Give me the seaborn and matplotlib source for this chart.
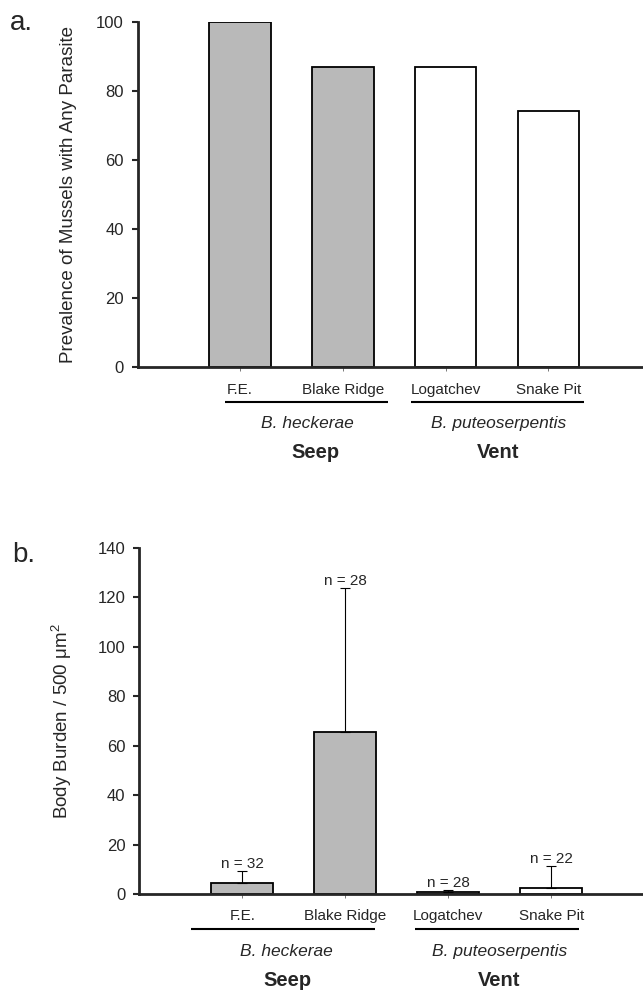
import numpy as np
import pandas as pd
import seaborn as sns
import matplotlib
matplotlib.use("Agg")
import matplotlib.pyplot as plt
from matplotlib.transforms import blended_transform_factory

# ---------------- data ----------------
sites = ["F.E.", "Blake Ridge", "Logatchev", "Snake Pit"]
habitat = ["Seep", "Seep", "Vent", "Vent"]
prevalence = [100, 87, 87, 74]
burden_mean = [4.4, 65.5, 1.0, 2.7]
burden_err = [5.0, 58.1, 0.6, 8.8]
n_labels = ["n = 32", "n = 28", "n = 28", "n = 22"]
species = ["B. heckerae", "B. puteoserpentis"]
groups = ["Seep", "Vent"]
prev_ticks = [0, 20, 40, 60, 80, 100]
burden_ticks = [0, 20, 40, 60, 80, 100, 120, 140]

habitat_colors = {"Seep": "#b9b9b9", "Vent": "#ffffff"}

sns.set_style("ticks")
plt.rcParams["font.family"] = ["Liberation Sans", "DejaVu Sans"]
plt.rcParams["mathtext.fontset"] = "custom"
plt.rcParams["mathtext.rm"] = "Liberation Sans"
plt.rcParams["mathtext.it"] = "Liberation Sans:italic"
plt.rcParams["mathtext.default"] = "regular"

W, H = 643, 992
fig = plt.figure(figsize=(W / 100, H / 100), dpi=100)

def fx(px):
    return px / W

def fy(py):
    return 1 - py / H

axA = fig.add_axes([fx(138), fy(367), 1 - fx(138), (367 - 21.7) / H])
axB = fig.add_axes([fx(139.3), fy(894.3), 1 - fx(139.3), (894.3 - 547.7) / H])

dfA = pd.DataFrame({"site": sites, "habitat": habitat, "value": prevalence})
dfB = pd.DataFrame({"site": sites, "habitat": habitat, "value": burden_mean})

for ax, df in ((axA, dfA), (axB, dfB)):
    sns.barplot(data=df, x="site", y="value", hue="habitat", palette=habitat_colors,
                dodge=False, width=0.6, edgecolor="black", linewidth=1.3,
                legend=False, ax=ax, errorbar=None)

# error bars (upper only) on panel b
axB.errorbar(np.arange(len(sites)), burden_mean,
             yerr=[np.zeros(len(sites)), burden_err], fmt="none",
             ecolor="black", elinewidth=0.8, capsize=3.7, capthick=0.8, zorder=3)
for i, (m, e, lab) in enumerate(zip(burden_mean, burden_err, n_labels)):
    axB.annotate(lab, (i, m + e), xytext=(0, 0), textcoords="offset points",
                 ha="center", va="bottom", fontsize=11)

# axes styling
axA.set_ylim(0, 100)
axA.set_xlim(-0.99, 3.92)
axB.set_ylim(0, 140)
axB.set_xlim(-1.0, 3.89)
axA.set_yticks(prev_ticks)
axB.set_yticks(burden_ticks)

for ax in (axA, axB):
    ax.spines["top"].set_visible(False)
    ax.spines["right"].set_visible(False)
    ax.spines["left"].set_linewidth(2.0)
    ax.spines["bottom"].set_linewidth(2.0)
    ax.tick_params(axis="y", length=4.3, width=1.5, pad=5.8, labelsize=12, direction="out")
    ax.set_xlabel("")
    ax.set_xticks(range(len(sites)))
    ax.set_xticklabels(sites)

axA.tick_params(axis="x", length=3, width=0.7, color="#777777", pad=8.3, labelsize=11)
axB.tick_params(axis="x", length=3, width=0.7, color="#777777", pad=7.6, labelsize=11)

axA.set_ylabel("Prevalence of Mussels with Any Parasite", fontsize=13.5)
axA.yaxis.set_label_coords(-0.121, 0.5)
axB.set_ylabel(r"Body Burden / 500 $\mu m^2$", fontsize=13.5)
axB.yaxis.set_label_coords(-0.13, 0.5)

# group annotations below the axes
def group_annot(ax, line_spans, line_py, sp_pos, sp_py, gr_pos, gr_py):
    tr = blended_transform_factory(ax.transData, fig.transFigure)
    for (x0, x1) in line_spans:
        ax.plot([x0, x1], [fy(line_py), fy(line_py)], transform=tr, color="black",
                lw=1.5, clip_on=False, solid_capstyle="butt")
    for x, s in zip(sp_pos, species):
        ax.text(x, fy(sp_py), s, transform=tr, ha="center", va="baseline",
                style="italic", fontsize=12.5)
    for x, g in zip(gr_pos, groups):
        ax.text(x, fy(gr_py), g, transform=tr, ha="center", va="baseline",
                fontweight="bold", fontsize=14.5)

group_annot(axA, [(-0.146, 1.443), (1.66, 3.35)], 401.7,
            [0.657, 2.52], 428.3, [0.739, 2.51], 458.3)
group_annot(axB, [(-0.5, 1.293), (1.675, 3.27)], 929.3,
            [0.426, 2.50], 956.0, [0.44, 2.49], 985.5)

fig.text(fx(10), fy(30), "a.", fontsize=20, ha="left", va="baseline")
fig.text(fx(12), fy(561.7), "b.", fontsize=20, ha="left", va="baseline")

fig.savefig("out.png", dpi=100, facecolor="white")
